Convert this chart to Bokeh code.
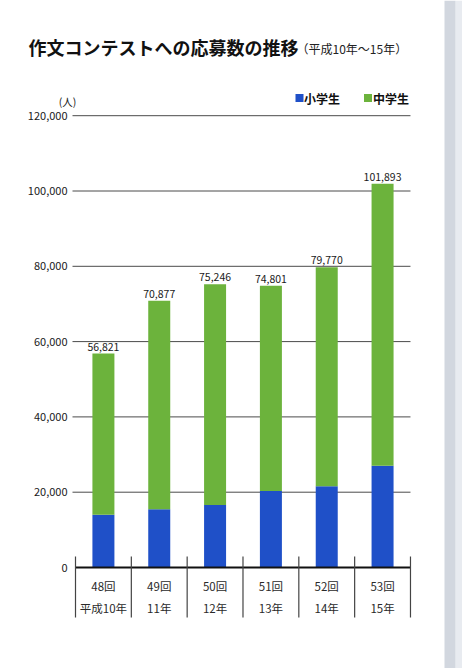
from bokeh.plotting import figure
from bokeh.models import Range1d
from bokeh.embed import file_html
from bokeh.resources import INLINE
from bokeh.core.properties import value

# ---- data ----
rounds = ["48回", "49回", "50回", "51回", "52回", "53回"]
years = ["平成10年", "11年", "12年", "13年", "14年", "15年"]
totals = [56821, 70877, 75246, 74801, 79770, 101893]
elementary = [14000, 15500, 16600, 20300, 21600, 27000]   # 小学生 (estimated)
junior = [t - e for t, e in zip(totals, elementary)]       # 中学生
series_names = ["小学生", "中学生"]
yticks = [0, 20000, 40000, 60000, 80000, 100000, 120000]
ytick_labels = ["0", "20,000", "40,000", "60,000", "80,000", "100,000", "120,000"]
title = "作文コンテストへの応募数の推移"
subtitle = "（平成10年～15年）"
unit = "(人)"

BLUE = "#1f50c8"
GREEN = "#6cb33c"
FONT = value("Noto Sans CJK JP")

W, H = 462, 668
OX, OY = 0, 0      # page offset of the canvas
S = 55.83          # px per category
PY = 3.765         # px per 1000 people
X0, Y0 = 75, 567   # page px of left axis end / zero line


def px_x(px):
    return -0.5 + (px - X0) / S


def px_y(py):
    return (Y0 - py) / PY * 1000


p = figure(width=W, height=H, output_backend="svg", toolbar_location=None,
           x_range=Range1d(px_x(OX), px_x(OX + W)), y_range=Range1d(px_y(OY + H), px_y(OY)),
           min_border=0)
p.axis.visible = False
p.grid.visible = False
p.outline_line_color = None
p.background_fill_color = "white"

idx = list(range(len(rounds)))
n = len(rounds)

# page edge strip (scan)
p.quad(left=[px_x(455)], right=[px_x(OX + W)], bottom=[px_y(OY + H)], top=[px_y(OY)],
       fill_color="#e8ebf0", line_color=None)
p.quad(left=[px_x(444)], right=[px_x(455)], bottom=[px_y(OY + H)], top=[px_y(OY)],
       fill_color="#d2d7df", line_color=None)

# gridlines
grid_y = yticks[1:]
p.segment(x0=[px_x(72)] * len(grid_y), x1=[n - 0.5] * len(grid_y), y0=grid_y, y1=grid_y,
          line_color="#4a4a4a", line_width=1)

# bars
bw = 22 / S
p.vbar(x=idx, width=bw, bottom=0, top=elementary, fill_color=BLUE, line_color=None)
p.vbar(x=idx, width=bw, bottom=elementary, top=totals, fill_color=GREEN, line_color=None)

# zero axis line and category separators
p.segment(x0=[-0.5], x1=[n - 0.5], y0=[0], y1=[0], line_color="#111111", line_width=2)
bounds = [i - 0.5 for i in range(n + 1)]
p.segment(x0=bounds, x1=bounds, y0=[px_y(556)] * len(bounds), y1=[px_y(617)] * len(bounds),
          line_color="#444444", line_width=1.2)

# y tick labels
p.text(x=[px_x(67)] * len(yticks), y=yticks, text=ytick_labels, text_font=FONT,
       text_font_size="11px", text_align="right", text_baseline="middle", text_color="#1a1a1a")

# value labels
p.text(x=idx, y=totals, text=[f"{v:,}" for v in totals], text_font=FONT,
       text_font_size="10.5px", text_align="center", text_baseline="bottom",
       y_offset=-3, text_color="#1a1a1a")

# category labels
p.text(x=idx, y=[px_y(585)] * n, text=rounds, text_font=FONT, text_font_size="11.5px",
       text_align="center", text_baseline="middle", text_color="#2a2a2a")
p.text(x=idx, y=[px_y(607)] * n, text=years, text_font=FONT, text_font_size="11.5px",
       text_align="center", text_baseline="middle", text_color="#2a2a2a")

# title
p.text(x=[px_x(28)], y=[px_y(46)], text=[title], text_font=FONT, text_font_size="18px",
       text_font_style="bold", text_align="left", text_baseline="middle", text_color="#111111")
p.text(x=[px_x(296)], y=[px_y(48)], text=[subtitle], text_font=FONT, text_font_size="12px",
       text_align="left", text_baseline="middle", text_color="#222222")

# unit
p.text(x=[px_x(67)], y=[px_y(101)], text=[unit], text_font=FONT, text_font_size="10.5px",
       text_align="center", text_baseline="middle", text_color="#222222")

# legend
p.rect(x=[px_x(299), px_x(367.5)], y=[px_y(97.5)] * 2, width=8 / S, height=8 / PY * 1000,
       fill_color=[BLUE, GREEN], line_color=None)
p.text(x=[px_x(303.5), px_x(372.5)], y=[px_y(97.5)] * 2, text=series_names, text_font=FONT,
       text_font_size="12px", text_font_style="bold", text_align="left",
       text_baseline="middle", text_color="#111111")

open("out.html", "w").write(file_html(p, INLINE))
